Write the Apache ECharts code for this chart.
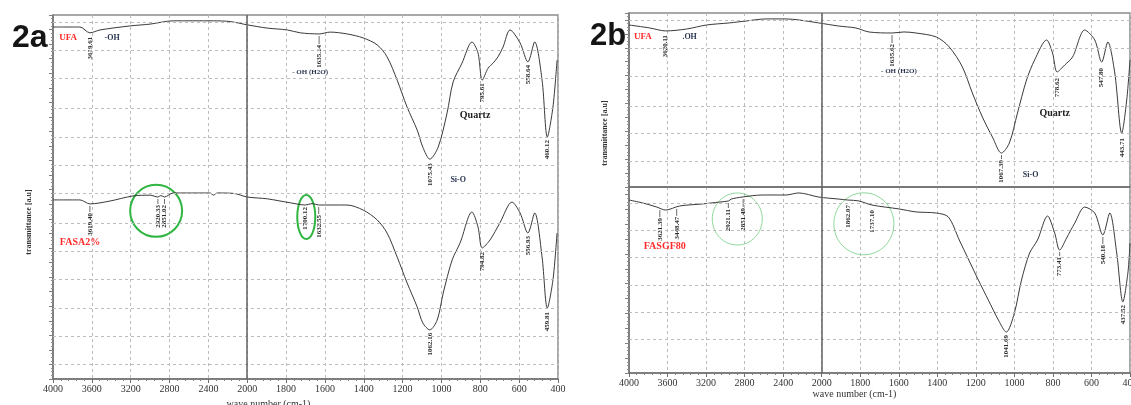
<!DOCTYPE html>
<html>
<head>
<meta charset="utf-8">
<script src="https://cdn.jsdelivr.net/npm/echarts@6/dist/echarts.min.js"></script>
<style>html,body{margin:0;padding:0;background:#fff}#c{width:1131px;height:405px}</style>
</head>
<body>
<div id="c"></div>
<script>
// ---------- tick labels (wavenumber, cm-1) ----------
const xTickLabels = [4000, 3600, 3200, 2800, 2400, 2000, 1800, 1600, 1400, 1200, 1000, 800, 600, 400];

// ---------- Panel 2a : UFA ----------
const ufaA_wn = [4000, 3722, 3620, 3515, 3206, 3000, 2763, 2350, 2175, 2000, 1897, 1794, 1727, 1630, 1573, 1486, 1403, 1331, 1280, 1228, 1177, 1125, 1096, 1060, 1017, 971, 940, 894, 843, 812, 790, 760, 734, 709, 683, 647, 595, 555, 520, 482, 455, 426, 405];
const ufaA_T  = [96.7, 96.7, 95.1, 95.9, 97.0, 97.5, 98.4, 98.4, 98.2, 97.3, 96.4, 95.9, 95.1, 94.8, 95.3, 94.8, 93.7, 91.8, 88.5, 82.1, 74.7, 68.4, 63.7, 60.4, 63.7, 73.1, 81.6, 86.8, 92.6, 89.6, 82.1, 85.4, 86.8, 88.5, 91.2, 95.9, 92.3, 87.1, 92.6, 82.1, 66.5, 74.7, 87.6];
// ---------- Panel 2a : FASA2% ----------
const fasaA_wn = [4000, 3722, 3620, 3412, 3175, 3000, 2920, 2890, 2852, 2763, 2381, 2350, 2309, 2144, 2000, 1897, 1778, 1700, 1666, 1632, 1486, 1403, 1331, 1280, 1228, 1177, 1125, 1096, 1060, 1022, 991, 945, 904, 843, 812, 790, 750, 699, 637, 595, 555, 520, 482, 455, 426, 405];
const fasaA_T  = [49.2, 49.2, 48.1, 48.9, 50.3, 50.5, 50.0, 50.4, 50.0, 51.1, 51.1, 50.5, 51.1, 51.0, 50.0, 49.5, 48.4, 47.8, 48.2, 47.8, 47.8, 46.4, 43.7, 40.1, 33.5, 26.4, 19.8, 15.4, 13.5, 16.2, 23.6, 32.7, 37.4, 45.9, 41.8, 36.0, 38.2, 42.9, 48.6, 45.6, 40.1, 45.6, 33.5, 19.5, 27.2, 40.1];

// ---------- Panel 2b : UFA ----------
const ufaB_wn = [4000, 3784, 3620, 3402, 3196, 2959, 2784, 2577, 2371, 2237, 2031, 1911, 1823, 1755, 1635, 1573, 1510, 1405, 1338, 1270, 1218, 1166, 1114, 1067, 1026, 984, 937, 895, 833, 802, 778, 739, 698, 635, 583, 547, 515, 479, 443, 417, 400];
const ufaB_T  = [93.1, 91.4, 89.7, 90.8, 93.1, 94.3, 95.4, 96.6, 96.6, 96.0, 94.3, 92.5, 91.4, 89.1, 88.5, 89.1, 88.5, 86.2, 80.5, 69.0, 54.0, 40.2, 28.7, 19.5, 25.3, 42.5, 61.5, 73.0, 84.5, 77.0, 66.1, 70.1, 74.7, 90.2, 84.5, 71.8, 83.3, 65.5, 31.0, 50.0, 73.0];
// ---------- Panel 2b : FASGF80 ----------
const fasB_wn = [4000, 3856, 3711, 3621, 3474, 3237, 3062, 2965, 2940, 2825, 2619, 2371, 2237, 2031, 1911, 1864, 1807, 1739, 1599, 1510, 1405, 1343, 1286, 1187, 1135, 1083, 1042, 1000, 963, 921, 880, 828, 791, 765, 729, 687, 635, 583, 541, 505, 469, 437, 411, 400];
const fasB_T  = [93.0, 91.4, 89.2, 87.6, 89.8, 90.9, 91.9, 92.5, 93.5, 94.6, 95.7, 95.7, 96.8, 94.6, 93.5, 93.0, 92.5, 90.3, 88.2, 86.6, 86.0, 83.9, 71.5, 50.0, 39.2, 28.5, 22.0, 32.3, 50.0, 64.5, 71.5, 84.4, 75.3, 66.1, 72.6, 80.6, 89.2, 86.0, 74.2, 86.0, 64.5, 38.2, 53.8, 69.9];

// ---------- peak labels: [wavenumber position, label text, gap below curve] ----------
const peaksA_ufa  = [[3620, '3619.61', 4], [1630, '1635.14', 11], [1060, '1075.43', 4], [790, '795.61', 3], [555, '558.64', 3], [455, '460.12', 3]];
const peaksA_fasa = [[3620, '3619.40', 9], [2920, '2920.33', 8], [2852, '2851.02', 8], [1700, '1700.12', 2], [1632, '1632.55', 10], [1060, '1062.16', 3], [790, '794.82', 4], [555, '556.93', 3], [455, '459.81', 4]];
const peaksB_ufa  = [[3620, '3620.11', 4], [1635, '1635.62', 11], [1067, '1067.39', 7], [778, '778.62', 6], [547, '547.80', 6], [443, '443.71', 5]];
const peaksB_fas  = [[3680, '3621.39', 10], [3505, '3448.47', 10], [2969, '2921.11', 8], [2815, '2851.49', 11], [1864, '1862.07', 5], [1739, '1737.10', 5], [1042, '1041.69', 3], [765, '773.41', 7], [541, '540.18', 10], [437, '437.52', 3]];

// ---------- text notes: [wavenumber, transmittance, text, kind] ----------
const notesA = [[3845, 93.7, 'UFA', 'red'], [3392, 93.7, '-OH', 'dark'], [1676, 84.3, '- OH (H2O)', 'small'], [827, 72.3, 'Quartz', 'bold'], [914, 54.7, 'Si-O', 'dark'], [3722, 37.6, 'FASA2%', 'redbig']];
const notesB_top = [[3856, 86.2, 'UFA', 'red'], [3371, 86.2, '.OH', 'dark'], [1599, 66.7, '- OH (H2O)', 'small'], [791, 42.5, 'Quartz', 'bold'], [916, 6.9, 'Si-O', 'dark']];
const notesB_bot = [[3629, 68.3, 'FASGF80', 'redbig']];

// ---------- highlight circles: [wavenumber, transmittance, rx, ry] ----------
const circA = [[2938, 46.2, 26, 26], [1696, 44.5, 9, 22]];
const circB = [[2876, 82.8, 25, 26], [1781, 80.2, 30, 31]];

// ---------- horizontal grid levels (a.u.) ----------
const hGridA = [98.1, 90.4, 82.7, 74.5, 66.5, 58.8, 51.1, 42.9, 35.2, 27.5, 19.5, 11.8, 4.1];
const hGridB_top = [96.0, 79.9, 63.8, 46.6, 31.0, 14.9];
const hGridB_bot = [91.4, 76.9, 62.4, 47.3, 32.8, 18.3];

// split wavenumber scale (4000-2000 compressed 2x)
function wnToT(wn) { return wn >= 2000 ? (4000 - wn) / 2 : 1000 + (2000 - wn); }
function pairs(wn, T) { return wn.map((w, k) => [wnToT(w), T[k]]); }
function valAt(wn, T, w) {
  const t = wnToT(w);
  for (let k = 0; k < wn.length - 1; k++) {
    const t0 = wnToT(wn[k]), t1 = wnToT(wn[k + 1]);
    if (t >= t0 && t <= t1) return T[k] + (T[k + 1] - T[k]) * (t - t0) / (t1 - t0);
  }
  return T[T.length - 1];
}

const SERIF = "'Liberation Serif','DejaVu Serif',serif";
const chart = echarts.init(document.getElementById('c'));

function xAxisCfg(gi, showLabels, name, padRight) {
  return {
    type: 'value', gridIndex: gi, min: 0, max: 2600, interval: 200,
    axisLine: { show: true, onZero: false, lineStyle: { color: '#707070', width: 1.5 } },
    axisTick: { show: showLabels, length: 4, lineStyle: { color: '#707070' } },
    minorTick: { show: showLabels, splitNumber: 5, length: 2, lineStyle: { color: '#808080' } },
    splitLine: { show: true, lineStyle: { color: '#bcbcbc', type: [3, 3], width: 1 } },
    axisLabel: { show: showLabels, interval: 0, showMinLabel: true, showMaxLabel: true, margin: 5,
      formatter: v => String(xTickLabels[Math.round(v / 200)]), fontFamily: SERIF, fontSize: 10, color: '#333' },
    name: name, nameLocation: 'middle', nameGap: 16,
    nameTextStyle: { fontFamily: SERIF, fontSize: 10, color: '#333', padding: [0, padRight, 0, 0] }
  };
}
function yAxisCfg(gi, interval, name, padRight) {
  return {
    type: 'value', gridIndex: gi, min: 0, max: 100, interval: interval,
    axisLine: { show: true, onZero: false, lineStyle: { color: '#707070', width: 1.5 } },
    axisTick: { show: true, length: 4, lineStyle: { color: '#808080' } },
    minorTick: { show: true, splitNumber: 4, length: 2, lineStyle: { color: '#909090' } },
    splitLine: { show: false }, axisLabel: { show: false },
    name: name, nameLocation: 'middle', nameGap: 20, nameRotate: 90,
    nameTextStyle: { fontFamily: SERIF, fontSize: 8, fontWeight: 'bold', color: '#333', padding: [0, padRight, 0, 0] }
  };
}
function gridMarks(levels) {
  const d = levels.map(v => ({ yAxis: v, lineStyle: { type: [3, 3], color: '#bcbcbc', width: 1 } }));
  d.push({ xAxis: 1000, lineStyle: { type: 'solid', color: '#606060', width: 1.5 } });
  return { silent: true, symbol: 'none', animation: false, label: { show: false }, data: d };
}
function lineSeries(i, wn, T, marks) {
  const s = { type: 'line', xAxisIndex: i, yAxisIndex: i, data: pairs(wn, T), showSymbol: false, smooth: 0.3,
    lineStyle: { color: '#3a3a3a', width: 1 }, silent: true, animation: false, z: 3 };
  if (marks) s.markLine = marks;
  return s;
}

const grids = [
  { left: 53, top: 15, width: 505, height: 364 },
  { left: 629, top: 13, width: 501, height: 174 },
  { left: 629, top: 187, width: 501, height: 186 }
].map(g => Object.assign(g, { show: true, borderColor: '#8c8c8c', borderWidth: 1.5, backgroundColor: 'transparent', containLabel: false, outerBoundsMode: 'none' }));

chart.setOption({
  animation: false,
  backgroundColor: '#fff',
  title: [
    { text: '2a', left: 7, top: 17, textStyle: { fontFamily: "'Liberation Sans',Arial,sans-serif", fontSize: 32, fontWeight: 'bold', color: '#151515' } },
    { text: '2b', left: 585, top: 16, textStyle: { fontFamily: "'Liberation Sans',Arial,sans-serif", fontSize: 31, fontWeight: 'bold', color: '#151515' } }
  ],
  grid: grids,
  xAxis: [xAxisCfg(0, true, 'wave number (cm-1)', 74), xAxisCfg(1, false, '', 0), xAxisCfg(2, true, 'wave number (cm-1)', 50)],
  yAxis: [yAxisCfg(0, 4, 'transmittance [a.u]', 50), yAxisCfg(1, 8, 'transmittance [a.u]', 66), yAxisCfg(2, 8, '', 0)],
  series: [
    lineSeries(0, ufaA_wn, ufaA_T, gridMarks(hGridA)),
    lineSeries(0, fasaA_wn, fasaA_T, null),
    lineSeries(1, ufaB_wn, ufaB_T, gridMarks(hGridB_top)),
    lineSeries(2, fasB_wn, fasB_T, gridMarks(hGridB_bot))
  ]
});

// ---------- annotations through the chart's own scales ----------
const gfx = [];
function px(gi, w, v) { return chart.convertToPixel({ gridIndex: gi }, [wnToT(w), v]); }
function addPeaks(gi, wn, T, peaks) {
  peaks.forEach(([w, txt, gap]) => {
    const p = px(gi, w, valAt(wn, T, w));
    if (gap >= 7) {
      gfx.push({ type: 'line', shape: { x1: p[0], y1: p[1] + 2, x2: p[0], y2: p[1] + gap - 1 }, style: { stroke: '#444', lineWidth: 0.8 }, silent: true });
    }
    gfx.push({ type: 'text', x: p[0], y: p[1] + gap, rotation: Math.PI / 2, silent: true,
      style: { text: txt, font: 'bold 7px ' + SERIF, fill: '#2a2a2a', align: 'right', verticalAlign: 'middle' } });
  });
}
const noteStyle = {
  red: { font: 'bold 9px ' + SERIF, fill: '#ff2b2b' },
  redbig: { font: 'bold 10px ' + SERIF, fill: '#ff2b2b' },
  dark: { font: 'bold 8px ' + SERIF, fill: '#2a3550' },
  small: { font: 'bold 7px ' + SERIF, fill: '#2a3550' },
  bold: { font: 'bold 10px ' + SERIF, fill: '#222' }
};
function addNotes(gi, notes) {
  notes.forEach(([w, v, txt, kind]) => {
    const p = px(gi, w, v);
    gfx.push({ type: 'text', x: p[0], y: p[1], silent: true,
      style: Object.assign({ text: txt, align: 'center', verticalAlign: 'middle' }, noteStyle[kind]) });
  });
}
function addCircles(gi, list, color, lw) {
  list.forEach(([w, v, rx, ry]) => {
    const p = px(gi, w, v);
    gfx.push({ type: 'ellipse', shape: { cx: p[0], cy: p[1], rx: rx, ry: ry }, silent: true,
      style: { fill: 'none', stroke: color, lineWidth: lw } });
  });
}
addPeaks(0, ufaA_wn, ufaA_T, peaksA_ufa);
addPeaks(0, fasaA_wn, fasaA_T, peaksA_fasa);
addPeaks(1, ufaB_wn, ufaB_T, peaksB_ufa);
addPeaks(2, fasB_wn, fasB_T, peaksB_fas);
addNotes(0, notesA);
addNotes(1, notesB_top);
addNotes(2, notesB_bot);
addCircles(0, circA, '#2fb541', 2);
addCircles(2, circB, '#8ed89a', 1);
chart.setOption({ graphic: { elements: gfx } });
</script>
</body>
</html>
